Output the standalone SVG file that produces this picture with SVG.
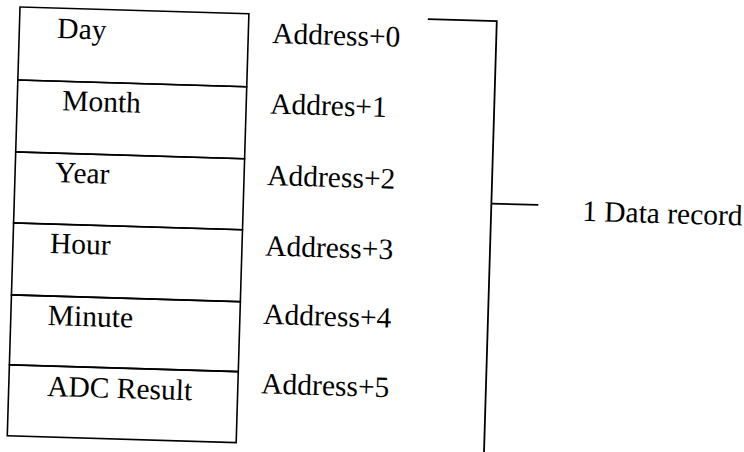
<svg xmlns="http://www.w3.org/2000/svg" width="744" height="452" viewBox="0 0 744 452">
  <style>
    .cell { fill: none; stroke: #000; stroke-width: 1.6; }
    .wire { fill: none; stroke: #000; stroke-width: 1.8; }
    text { font-family: "Liberation Serif", "Times New Roman", serif; font-size: 29.5px; fill: #000; }
  </style>
  <rect x="0" y="0" width="744" height="452" fill="#fff"/>
  <!-- whole layout sits slightly tilted, pivoting on the table's top-left corner -->
  <g transform="rotate(1.7 20 7) translate(20 7)">
    <g id="record-table">
      <g id="row-day">
        <rect class="cell" x="0" y="0" width="229" height="73"/>
        <text x="38" y="30">Day</text>
      </g>
      <g id="row-month">
        <rect class="cell" x="0" y="73" width="229" height="72"/>
        <text x="45" y="102">Month</text>
      </g>
      <g id="row-year">
        <rect class="cell" x="0" y="145" width="229" height="71"/>
        <text x="40" y="174">Year</text>
      </g>
      <g id="row-hour">
        <rect class="cell" x="0" y="216" width="229" height="72"/>
        <text x="37" y="245">Hour</text>
      </g>
      <g id="row-minute">
        <rect class="cell" x="0" y="288" width="229" height="70"/>
        <text x="37" y="317">Minute</text>
      </g>
      <g id="row-adc">
        <rect class="cell" x="0" y="358" width="229" height="71"/>
        <text x="38.5" y="388">ADC Result</text>
      </g>
    </g>
    <g id="addresses">
      <text x="253" y="28.5">Address+0</text>
      <text x="253" y="99">Addres+1</text>
      <text x="252.2" y="170.5">Address+2</text>
      <text x="252.2" y="241">Address+3</text>
      <text x="252.3" y="309.5">Address+4</text>
      <text x="252.4" y="379">Address+5</text>
    </g>
    <g id="connectors">
      <polyline class="wire" points="408,0 477,0 477,440"/>
      <line class="wire" x1="477" y1="182.5" x2="524" y2="182.5"/>
    </g>
    <g id="record-label">
      <text x="568" y="197">1 Data record</text>
    </g>
  </g>
</svg>
